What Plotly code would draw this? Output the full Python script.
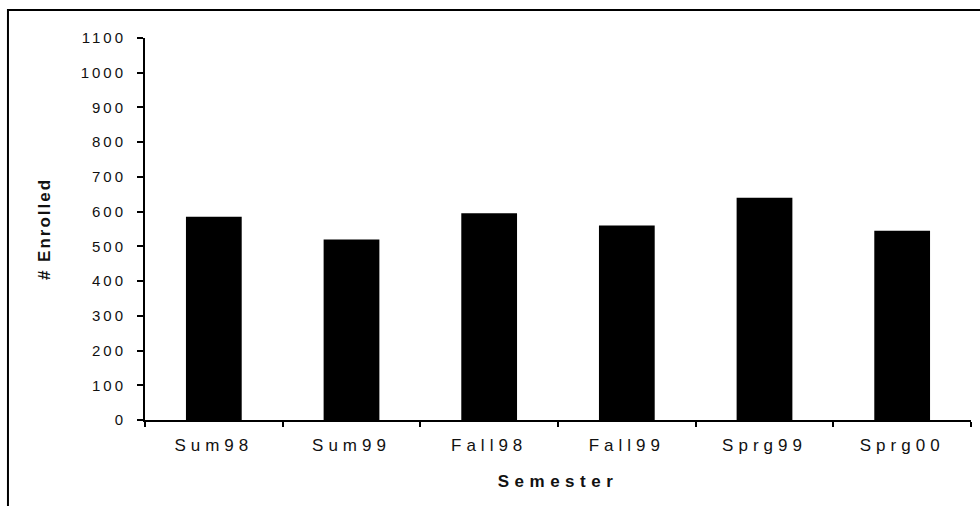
import plotly.graph_objects as go

# Enrollment per semester
semesters = ["Sum98", "Sum99", "Fall98", "Fall99", "Sprg99", "Sprg00"]
enrolled = [585, 520, 595, 560, 640, 545]
y_ticks = list(range(0, 1101, 100))

FONT = "Liberation Sans, Arial, sans-serif"

fig = go.Figure(
    go.Bar(
        x=semesters,
        y=enrolled,
        marker=dict(color="black", line=dict(width=0)),
        hoverinfo="x+y",
    )
)

fig.update_layout(
    width=980,
    height=506,
    margin=dict(l=145, r=9, t=38, b=86),
    paper_bgcolor="white",
    plot_bgcolor="white",
    bargap=0.595,
    showlegend=False,
    font=dict(family=FONT, color="black"),
    # frame around the chart (right and bottom edges fall outside the page)
    shapes=[
        dict(
            type="rect", xref="paper", yref="paper",
            x0=-0.1659, x1=1.05, y0=-0.4, y1=1.0732,
            line=dict(color="black", width=2),
            fillcolor="rgba(0,0,0,0)", layer="below",
        )
    ],
)

fig.update_xaxes(
    type="category",
    showline=True, linecolor="black", linewidth=2,
    ticks="outside", tickson="boundaries", ticklen=5, tickwidth=2, tickcolor="black",
    showgrid=False, zeroline=False,
    ticklabelstandoff=9,
    tickfont=dict(size=17, family=FONT, color="#111"),
    title=dict(text="<b>Semester</b>", font=dict(size=17, family=FONT, color="#111"), standoff=21),
)

fig.update_yaxes(
    range=[0, 1100],
    tickvals=y_ticks,
    showline=True, linecolor="black", linewidth=2,
    ticks="outside", ticklen=6, tickwidth=2, tickcolor="black",
    showgrid=False, zeroline=False,
    ticklabelstandoff=8,
    tickfont=dict(size=15, family=FONT, color="#111"),
    title=dict(text="<b># Enrolled</b>", font=dict(size=17, family=FONT, color="#111"), standoff=38),
)

# wide letter spacing on the axis texts
post = """
var s = document.createElement('style');
s.textContent = '.xtick text{letter-spacing:5px}' +
  '.ytick text{letter-spacing:3px}' +
  '.g-xtitle text{letter-spacing:5.5px}' +
  '.g-ytitle text{letter-spacing:2px}';
document.head.appendChild(s);
"""

fig.write_html("out.html", post_script=post, config={"displayModeBar": False})
